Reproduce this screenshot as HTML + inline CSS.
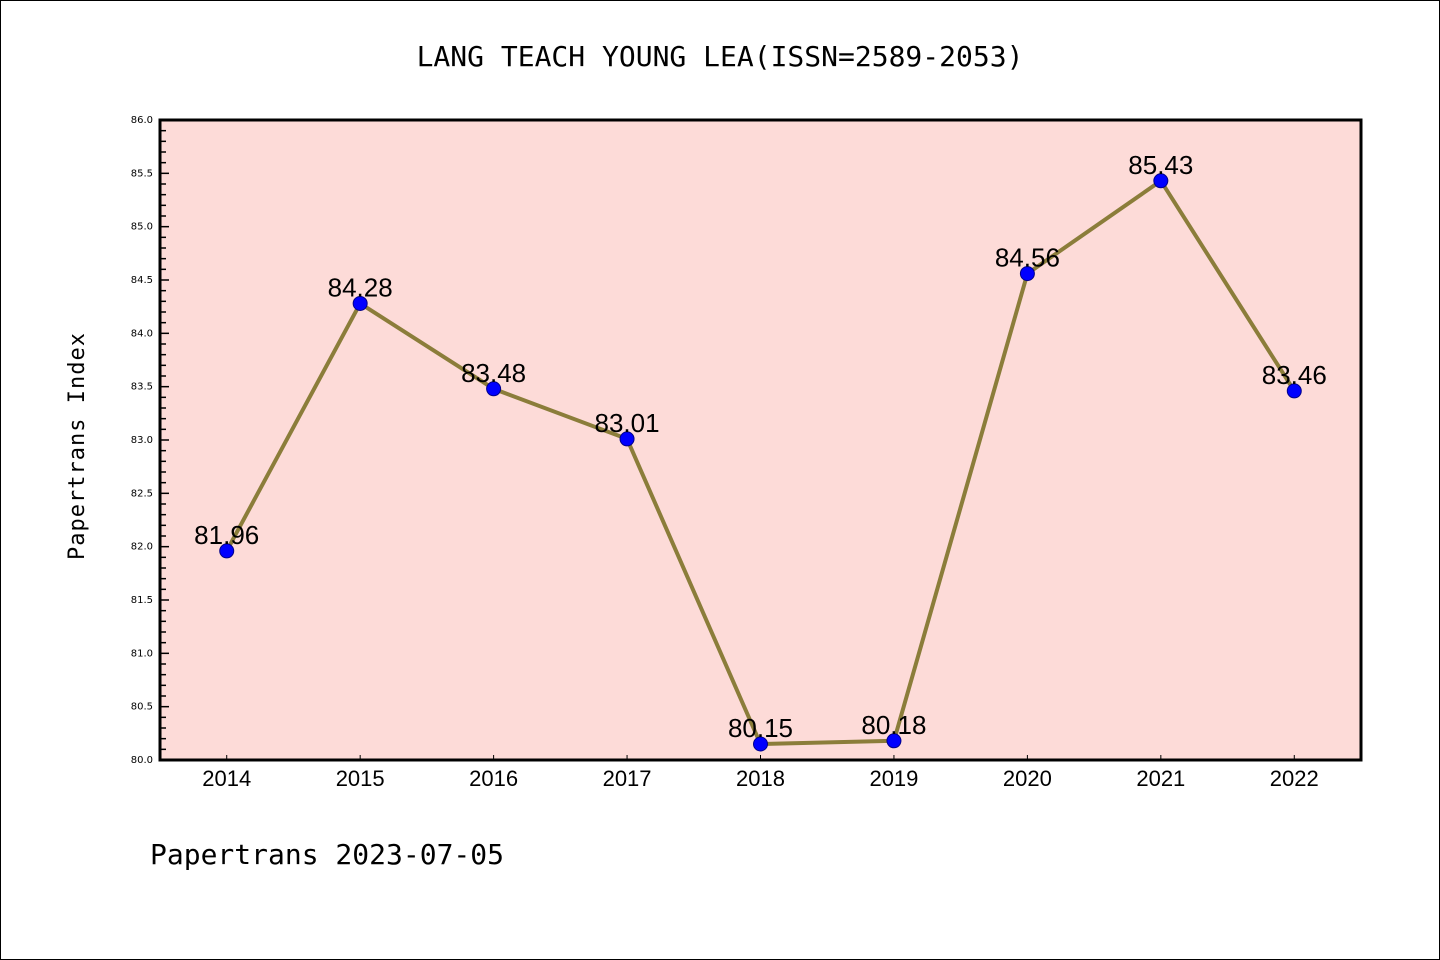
<!DOCTYPE html>
<html><head><meta charset="utf-8"><style>
body{margin:0;background:#fff}
svg{display:block;font-family:"DejaVu Sans Mono","Liberation Mono",monospace}
</style></head><body>
<svg id="c" width="1440" height="960">
<rect x="0.5" y="0.5" width="1439" height="959" fill="#fff" stroke="#000"/>
<text x="720" y="66" text-anchor="middle" font-size="28">LANG TEACH YOUNG LEA(ISSN=2589-2053)</text>
<text transform="translate(84,446) rotate(-90)" text-anchor="middle" font-size="22" letter-spacing="1">Papertrans Index</text>
<text x="150" y="864" font-size="28">Papertrans 2023-07-05</text>
<g id="plot"></g>
</svg>
<script>
const years=[2014,2015,2016,2017,2018,2019,2020,2021,2022];
const values=[81.96,84.28,83.48,83.01,80.15,80.18,84.56,85.43,83.46];
const labels=["81.96","84.28","83.48","83.01","80.15","80.18","84.56","85.43","83.46"];
const yTicks=[80.0,80.5,81.0,81.5,82.0,82.5,83.0,83.5,84.0,84.5,85.0,85.5,86.0];
const L=160,R=1361,T=120,B=760;
const X=v=>L+(v-2013.5)/9*(R-L);
const Y=v=>B-(v-80)/6*(B-T);
const NS="http://www.w3.org/2000/svg";
const g=document.getElementById('plot');
function mk(t,a){const e=document.createElementNS(NS,t);for(const k in a)e.setAttribute(k,a[k]);g.appendChild(e);return e;}
let bg=mk('rect',{x:L,y:T,width:R-L,height:B-T,fill:'#fddbd8'});


for(let i=0;i<=60;i++){const v=80+i*0.1;const y=Y(v);const major=i%5==0;
 let t=mk('line',{x1:L,x2:L+(major?9:6),y1:y,y2:y,stroke:'#000','stroke-width':1.5});
 
 }
yTicks.forEach(v=>{let t=mk('text',{x:L-7,y:Y(v)+3,'text-anchor':'end','font-size':10,'font-family':'DejaVu Sans,sans-serif'});t.textContent=v.toFixed(1);
 
 });
years.forEach(yr=>{const x=X(yr);
 let t=mk('line',{x1:x,x2:x,y1:B,y2:B-5,stroke:'#000','stroke-width':1});
 
 
 let l=mk('text',{x:x,y:B+26,'text-anchor':'middle','font-size':22,'font-family':'Liberation Sans,sans-serif'});l.textContent=yr;
 
 });
let line=mk('polyline',{points:years.map((yr,i)=>X(yr)+','+Y(values[i])).join(' '),fill:'none',stroke:'#8b7d3a','stroke-width':4});


years.forEach((yr,i)=>{
 let c=mk('circle',{cx:X(yr),cy:Y(values[i]),r:7,fill:'#0000ff',stroke:'#00008b','stroke-width':1});
 
 
 let t=mk('text',{x:X(yr),y:Y(values[i])-7,'text-anchor':'middle','font-size':26,'font-family':'Liberation Sans,sans-serif'});t.textContent=labels[i];
 
 });
let fr=mk('rect',{x:L,y:T,width:R-L,height:B-T,fill:'none',stroke:'#000','stroke-width':3});


</script>
</body></html>
